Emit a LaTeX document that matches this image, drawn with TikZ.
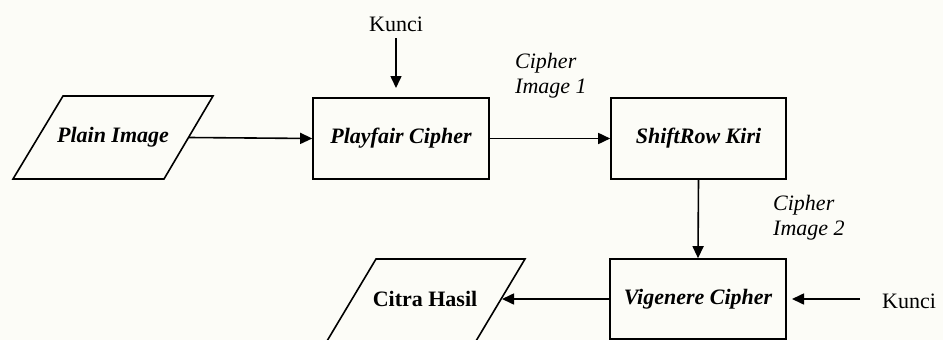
\documentclass[tikz,border=0pt]{standalone}
\usepackage{fontspec}
\setmainfont{Liberation Serif}
\usetikzlibrary{arrows.meta}
\definecolor{bgc}{RGB}{252,252,247}
\begin{document}
\begin{tikzpicture}[x=1pt,y=-1pt,
  box/.style={draw,line width=1.6pt,minimum width=176pt,minimum height=81pt,inner sep=0pt,
    font=\fontsize{22}{26}\selectfont\bfseries\itshape},
  lbl/.style={font=\fontsize{22}{25}\selectfont\itshape,align=left,inner sep=0pt,anchor=west},
  keytext/.style={font=\fontsize{22}{26}\selectfont,inner sep=0pt},
  para/.style={draw,line width=1.6pt,line join=miter},
  paratext/.style={font=\fontsize{22}{26}\selectfont\bfseries\itshape,inner sep=0pt},
  arr/.style={line width=1.6pt,-{Triangle[length=12pt,width=11pt]}}
]
\fill[bgc] (0,0) rectangle (943,340);
\useasboundingbox (0,0) rectangle (943,340);

% parallelogram: Plain Image
\draw[para] (63,96) -- (213,96) -- (164,179) -- (13,179) -- cycle;
\node[paratext] (plain) at (113,137.5) {Plain Image};
\coordinate (plainR) at (189,137.5);

% parallelogram: Citra Hasil
\draw[para] (376,259) -- (525,259) -- (476,341) -- (327,341) -- cycle;
\node[paratext,font=\fontsize{22}{26}\selectfont\bfseries] (citra) at (425,299) {Citra Hasil};
\coordinate (citraR) at (502,299);

% boxes
\node[box] (pf) at (401,138.5) {Playfair Cipher};
\node[box,minimum width=175pt] (sr) at (698.5,138.5) {ShiftRow Kiri};
\node[box,minimum width=176pt,minimum height=80pt] (vg) at (698,299) {Vigenere Cipher};

% keys
\node[keytext] (k1) at (396,24) {Kunci};
\coordinate (k1a) at (396,38);
\coordinate (k1t) at (396,88);
\node[keytext,anchor=west] (k2) at (882,301) {Kunci};
\coordinate (k2a) at (860,299);
\coordinate (k2t) at (792,299);

% labels
\node[lbl] (c1) at (515,76) {Cipher\\Image 1};
\node[lbl] (c2) at (773,217.5) {Cipher\\Image 2};

% connectors
\draw[arr] (plainR) -- (pf.west);
\draw[arr] (k1a) -- (k1t);
\draw[arr] (pf.east) -- (sr.west);
\draw[arr] (sr.south) -- (vg.north);
\draw[arr] (k2a) -- (k2t);
\draw[arr] (vg.west) -- (citraR);
\end{tikzpicture}
\end{document}
